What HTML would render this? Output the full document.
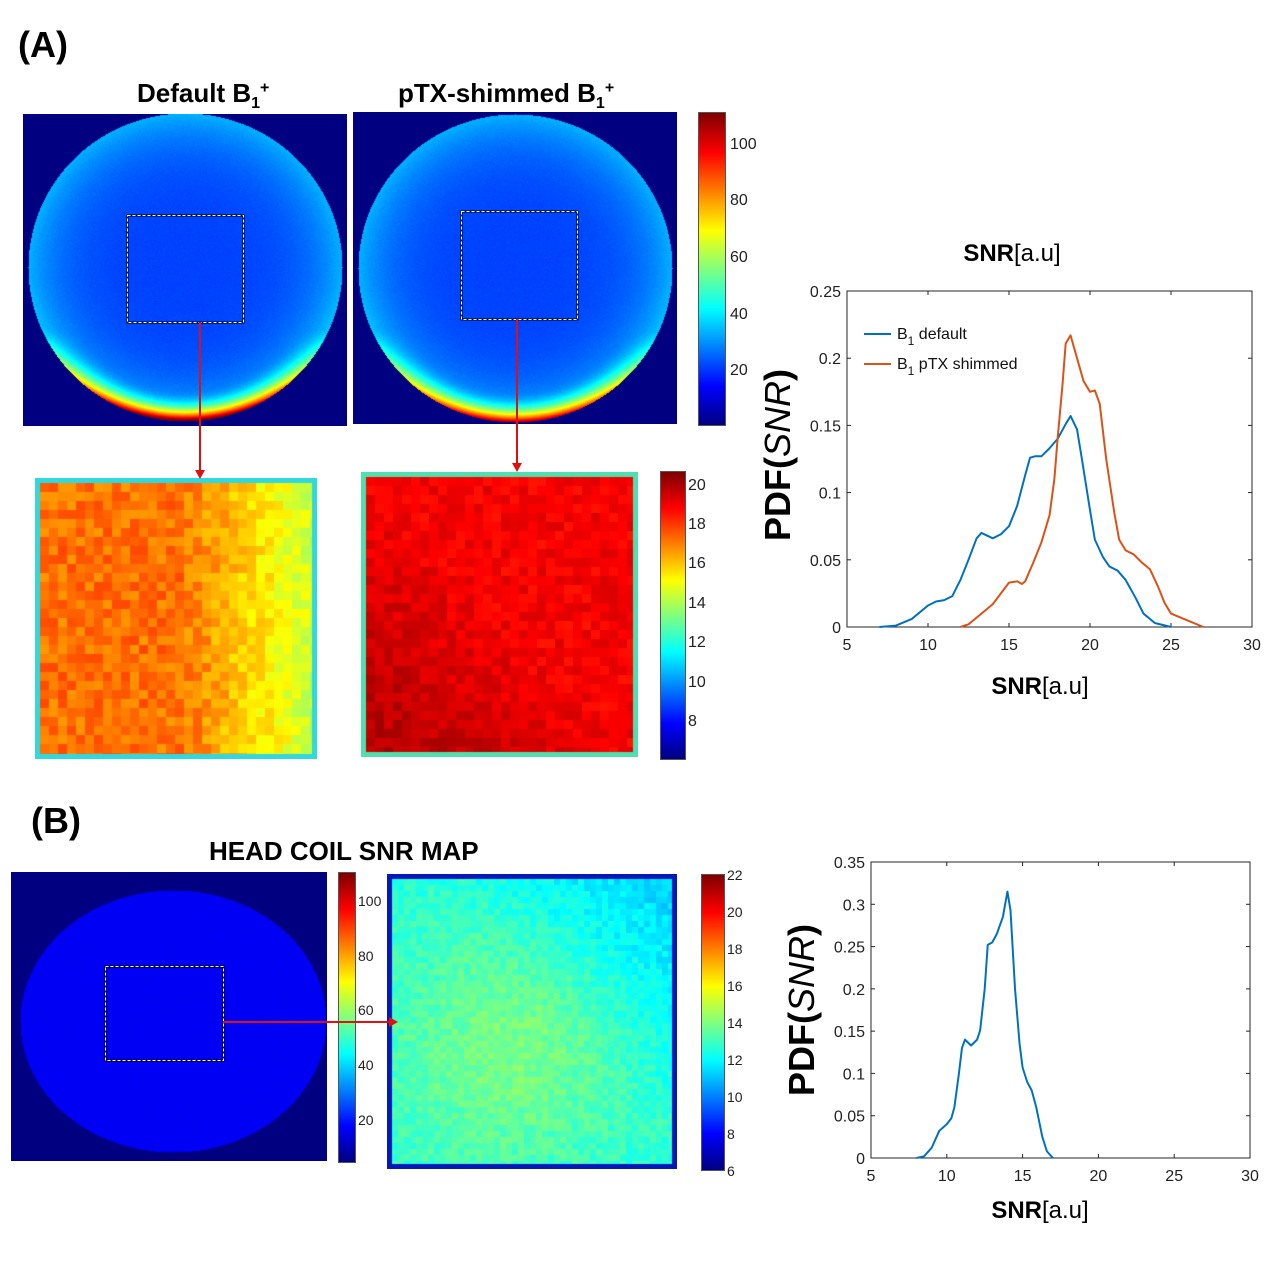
<!DOCTYPE html>
<html><head><meta charset="utf-8">
<style>
body{margin:0;background:#fff;width:1280px;height:1285px;position:relative;overflow:hidden;font-family:"Liberation Sans",sans-serif;}
.abs{position:absolute;}
.lbl{position:absolute;font-family:"Liberation Sans",sans-serif;font-size:16px;color:#222;}
.hdr{position:absolute;font-family:"Liberation Sans",sans-serif;font-weight:bold;color:#000;}
canvas{position:absolute;}
</style></head><body>
<div class="hdr" style="left:18px;top:24px;font-size:36px">(A)</div>
<div class="hdr" style="left:137px;top:78px;font-size:26px">Default B<sub style="font-size:16px">1</sub><sup style="font-size:16px">+</sup></div>
<div class="hdr" style="left:398px;top:78px;font-size:26px">pTX-shimmed B<sub style="font-size:16px">1</sub><sup style="font-size:16px">+</sup></div>
<div class="hdr" style="left:31px;top:800px;font-size:36px">(B)</div>
<div class="hdr" style="left:209px;top:836px;font-size:26px">HEAD COIL SNR MAP</div>

<canvas id="img1" width="324" height="312" style="left:23px;top:114px"></canvas>
<canvas id="img2" width="324" height="312" style="left:353px;top:112px"></canvas>
<canvas id="cb1" width="26" height="312" style="left:698px;top:112px;border:1px solid #555;box-sizing:border-box"></canvas>
<canvas id="crop1" width="282" height="281" style="left:35px;top:478px"></canvas>
<canvas id="crop2" width="277" height="285" style="left:361px;top:472px"></canvas>
<canvas id="cb2" width="24" height="287" style="left:660px;top:471px;border:1px solid #555;box-sizing:border-box"></canvas>
<canvas id="img3" width="316" height="289" style="left:11px;top:872px"></canvas>
<canvas id="cb3" width="16" height="289" style="left:338px;top:872px;border:1px solid #555;box-sizing:border-box"></canvas>
<canvas id="crop3" width="290" height="295" style="left:387px;top:874px"></canvas>
<canvas id="cb4" width="22" height="295" style="left:701px;top:874px;border:1px solid #555;box-sizing:border-box"></canvas>

<svg class="abs" style="left:0;top:0" width="1280" height="1285" id="ov">
<g><rect x="127.5" y="215.5" width="116" height="107" fill="none" stroke="#000" stroke-width="2"/><rect x="127.5" y="215.5" width="116" height="107" fill="none" stroke="#fff" stroke-width="1" stroke-dasharray="3,2"/></g>
<g><rect x="461.5" y="211.5" width="116" height="108" fill="none" stroke="#000" stroke-width="2"/><rect x="461.5" y="211.5" width="116" height="108" fill="none" stroke="#fff" stroke-width="1" stroke-dasharray="3,2"/></g>
<g><rect x="105.5" y="966.5" width="118" height="94" fill="none" stroke="#000" stroke-width="2"/><rect x="105.5" y="966.5" width="118" height="94" fill="none" stroke="#fff" stroke-width="1" stroke-dasharray="3,2"/></g>
<g fill="#e01010" stroke="#e01010" stroke-width="2">
<line x1="200" y1="322" x2="200" y2="471"/><polygon points="195,470 205,470 200,479" stroke="none"/>
<line x1="517" y1="319" x2="517" y2="464"/><polygon points="512,463 522,463 517,472" stroke="none"/>
<line x1="223" y1="1022" x2="390" y2="1022"/><polygon points="389,1017 389,1027 398,1022" stroke="none"/>
</g>
</svg>

<div class="lbl" style="left:730px;top:136px">100</div>
<div class="lbl" style="left:730px;top:192px">80</div>
<div class="lbl" style="left:730px;top:249px">60</div>
<div class="lbl" style="left:730px;top:306px">40</div>
<div class="lbl" style="left:730px;top:362px">20</div>

<div class="lbl" style="left:688px;top:477px">20</div>
<div class="lbl" style="left:688px;top:516px">18</div>
<div class="lbl" style="left:688px;top:555px">16</div>
<div class="lbl" style="left:688px;top:595px">14</div>
<div class="lbl" style="left:688px;top:634px">12</div>
<div class="lbl" style="left:688px;top:674px">10</div>
<div class="lbl" style="left:688px;top:713px">8</div>

<div class="lbl" style="left:358px;top:893px;font-size:14px">100</div>
<div class="lbl" style="left:358px;top:948px;font-size:14px">80</div>
<div class="lbl" style="left:358px;top:1002px;font-size:14px">60</div>
<div class="lbl" style="left:358px;top:1057px;font-size:14px">40</div>
<div class="lbl" style="left:358px;top:1112px;font-size:14px">20</div>

<div class="lbl" style="left:727px;top:867px;font-size:14px">22</div>
<div class="lbl" style="left:727px;top:904px;font-size:14px">20</div>
<div class="lbl" style="left:727px;top:941px;font-size:14px">18</div>
<div class="lbl" style="left:727px;top:978px;font-size:14px">16</div>
<div class="lbl" style="left:727px;top:1015px;font-size:14px">14</div>
<div class="lbl" style="left:727px;top:1052px;font-size:14px">12</div>
<div class="lbl" style="left:727px;top:1089px;font-size:14px">10</div>
<div class="lbl" style="left:727px;top:1126px;font-size:14px">8</div>
<div class="lbl" style="left:727px;top:1163px;font-size:14px">6</div>

<svg class="abs" style="left:0;top:0" width="1280" height="1285" id="charts" font-family="Liberation Sans, sans-serif"></svg>

<script>
// ---- chart data ----
const topXTicks = [5,10,15,20,25,30];
const topYTicks = [0,0.05,0.1,0.15,0.2,0.25];
const topYLabels = ['0','0.05','0.1','0.15','0.2','0.25'];
const defaultX = [7,8,9,10,10.5,11,11.5,12,12.5,13,13.3,14,14.5,15,15.5,16,16.3,16.6,17,17.5,18,18.5,18.8,19.2,19.5,20,20.3,20.8,21.2,21.7,22.2,22.8,23.3,24,25];
const defaultY = [0,0.001,0.006,0.016,0.019,0.02,0.023,0.035,0.05,0.066,0.07,0.066,0.069,0.075,0.09,0.113,0.126,0.127,0.127,0.133,0.14,0.151,0.157,0.147,0.125,0.087,0.065,0.052,0.045,0.042,0.035,0.022,0.01,0.003,0];
const ptxX = [12,12.5,13,13.5,14,14.5,15,15.5,15.8,16,16.5,17,17.5,17.8,18,18.3,18.5,18.8,19.2,19.6,20,20.3,20.6,21,21.5,21.8,22.2,22.7,23.2,23.7,24.2,24.6,25,26,27];
const ptxY = [0,0.002,0.007,0.012,0.017,0.025,0.033,0.034,0.032,0.034,0.048,0.063,0.083,0.11,0.14,0.18,0.211,0.217,0.2,0.183,0.175,0.176,0.166,0.125,0.085,0.065,0.057,0.054,0.048,0.043,0.03,0.018,0.01,0.005,0];
const botXTicks = [5,10,15,20,25,30];
const botYTicks = [0,0.05,0.1,0.15,0.2,0.25,0.3,0.35];
const botYLabels = ['0','0.05','0.1','0.15','0.2','0.25','0.3','0.35'];
const headX = [8,8.5,9,9.5,10,10.3,10.5,10.8,11,11.2,11.6,12,12.2,12.5,12.7,13,13.3,13.7,14,14.2,14.5,14.8,15,15.3,15.6,15.9,16.3,16.6,17];
const headY = [0,0.002,0.012,0.032,0.04,0.047,0.06,0.1,0.13,0.14,0.133,0.14,0.151,0.2,0.252,0.255,0.265,0.285,0.315,0.293,0.2,0.135,0.107,0.09,0.08,0.06,0.025,0.008,0];

const NS='http://www.w3.org/2000/svg';
const svg=document.getElementById('charts');
function mk(tag,attrs,parent){const e=document.createElementNS(NS,tag);for(const k in attrs)e.setAttribute(k,attrs[k]);(parent||svg).appendChild(e);return e;}

function drawChart(name,box,xmin,xmax,ymax,xt,yt,ytl,series,fs){
  const g=mk('g',{});
  
  
  const sx=v=>box.x+(v-xmin)/(xmax-xmin)*box.w;
  const sy=v=>box.y+box.h-v/ymax*box.h;
  mk('rect',{x:box.x,y:box.y,width:box.w,height:box.h,fill:'#fff',stroke:'#262626','stroke-width':1},g);
  xt.forEach(t=>{const x=sx(t);
    mk('line',{x1:x,y1:box.y+box.h,x2:x,y2:box.y+box.h-4,stroke:'#262626'},g);
    mk('line',{x1:x,y1:box.y,x2:x,y2:box.y+4,stroke:'#262626'},g);
    const tx=mk('text',{x:x,y:box.y+box.h+23,'text-anchor':'middle','font-size':fs,fill:'#222'},g);tx.textContent=t;
    
    
  });
  yt.forEach((t,i)=>{const y=sy(t);
    mk('line',{x1:box.x,y1:y,x2:box.x+4,y2:y,stroke:'#262626'},g);
    mk('line',{x1:box.x+box.w,y1:y,x2:box.x+box.w-4,y2:y,stroke:'#262626'},g);
    const tx=mk('text',{x:box.x-6,y:y+6,'text-anchor':'end','font-size':fs,fill:'#222'},g);tx.textContent=ytl[i];
    
    
  });
  series.forEach(s=>{
    const p=mk('polyline',{points:s.x.map((v,i)=>sx(v)+','+sy(s.y[i])).join(' '),fill:'none',stroke:s.c,'stroke-width':2,'stroke-linejoin':'round'},g);
    
    
  });
}
drawChart('snr-pdf-chart-top',{x:847,y:291,w:405,h:336},5,30,0.25,topXTicks,topYTicks,topYLabels,
  [{x:defaultX,y:defaultY,c:'#0072bd',n:'line-b1-default'},{x:ptxX,y:ptxY,c:'#d95319',n:'line-b1-ptx'}],16);
drawChart('snr-pdf-chart-bottom',{x:871,y:862,w:379,h:296},5,30,0.35,botXTicks,botYTicks,botYLabels,
  [{x:headX,y:headY,c:'#0072bd',n:'line-head-coil'}],16);

// legend
const lg=mk('g',{});


mk('line',{x1:864,y1:334,x2:891,y2:334,stroke:'#0072bd','stroke-width':2},lg);
mk('line',{x1:864,y1:364,x2:891,y2:364,stroke:'#d95319','stroke-width':2},lg);
let t=mk('text',{x:897,y:339,'font-size':16,fill:'#111'},lg);t.innerHTML='B<tspan dy="6" font-size="12">1</tspan><tspan dy="-6"> default</tspan>';
t=mk('text',{x:897,y:369,'font-size':16,fill:'#111'},lg);t.innerHTML='B<tspan dy="6" font-size="12">1</tspan><tspan dy="-6"> pTX shimmed</tspan>';

function bigText(txt,x,y,name){
  const e=mk('text',{x:x,y:y,'text-anchor':'middle','font-size':24,fill:'#000'});
  e.innerHTML=txt;
  
  
}
bigText('<tspan font-weight="bold">SNR</tspan>[a.u]',1012,261,'top-chart-title');
bigText('<tspan font-weight="bold">SNR</tspan>[a.u]',1040,694,'top-x-axis-title');
bigText('<tspan font-weight="bold">SNR</tspan>[a.u]',1040,1218,'bottom-x-axis-title');
function ylab(x,y,name){
  const e=mk('text',{x:x,y:y,'text-anchor':'middle','font-size':36,'font-weight':'bold',fill:'#000',transform:`rotate(-90 ${x} ${y})`});
  e.innerHTML='PDF(<tspan font-style="italic" font-weight="normal">SNR</tspan>)';
  
  
}
ylab(790,455,'top-y-axis-title');
ylab(814,1010,'bottom-y-axis-title');

// ---- image rendering (texture only) ----
function jet(v){v=Math.max(0,Math.min(1,v));const c=x=>Math.round(255*Math.max(0,Math.min(1,x)));
  return [c(1.5-Math.abs(4*v-3)),c(1.5-Math.abs(4*v-2)),c(1.5-Math.abs(4*v-1))];}
let seed=7;function rnd(){seed=(seed*16807)%2147483647;return seed/2147483647;}
function paint(id,f){const cv=document.getElementById(id),ctx=cv.getContext('2d');const W=cv.width,H=cv.height;
  const im=ctx.createImageData(W,H);for(let y=0;y<H;y++)for(let x=0;x<W;x++){const c=f(x,y,W,H);const i=(y*W+x)*4;im.data[i]=c[0];im.data[i+1]=c[1];im.data[i+2]=c[2];im.data[i+3]=255;}
  ctx.putImageData(im,0,0);return ctx;}
function bar(id){paint(id,(x,y,W,H)=>jet(1-y/H));}
['cb1','cb2','cb3','cb4'].forEach(bar);

function disc(cx,cy,r,ry,bias){return (x,y,W,H)=>{
  const dx=(x-cx)/r,dy=(y-cy)/ry;const d=Math.sqrt(dx*dx+dy*dy);
  if(d>1)return jet(0);
  let v=0.19+0.11*Math.pow(d,4)+0.015*(rnd()-0.5);
  if(dy>0.1) v+=0.06*Math.pow(d,6)*(dy-0.1);
  if(dy>0.4&&d>0.8){v+=Math.pow((d-0.8)/0.2,2)*Math.pow((dy-0.4)/0.6,1.3)*0.75*bias;}
  return jet(v);}}
paint('img1',disc(162,153,157,154,1.0));
paint('img2',disc(162,156,157,154,0.85));
paint('img3',(x,y)=>{const dx=(x-162)/153,dy=(y-149)/131;const d=Math.sqrt(dx*dx+dy*dy);
  return d>1?jet(0):jet(0.115+0.012*(rnd()-0.5));});

function blocks(id,bs,fn,border){const cv=document.getElementById(id),ctx=cv.getContext('2d');const W=cv.width,H=cv.height;
  ctx.fillStyle=border;ctx.fillRect(0,0,W,H);
  for(let y=5;y<H-5;y+=bs)for(let x=5;x<W-5;x+=bs){const c=jet(fn(x/W,y/H));ctx.fillStyle=`rgb(${c})`;ctx.fillRect(x,y,Math.min(bs,W-5-x),Math.min(bs,H-5-y));}}
blocks('crop1',9,(u,v)=>(17.6-3.0*Math.max(0,u-0.5)*2+1.2*(rnd()-0.5)-6.5)/14.5,'#30d8e0');
blocks('crop2',9,(u,v)=>(19.3+0.9*Math.max(0,(v-u)*1.2)+0.8*(rnd()-0.5)-6.5)/14.5,'#50e0b0');
blocks('crop3',6,(u,v)=>(12.6+1.3*Math.exp(-((u-0.4)**2+(v-0.6)**2)*6)-1.6*Math.max(0,u-v-0.1)+1.0*(rnd()-0.5)-6)/16,'#0818b8');
</script>
</body></html>
